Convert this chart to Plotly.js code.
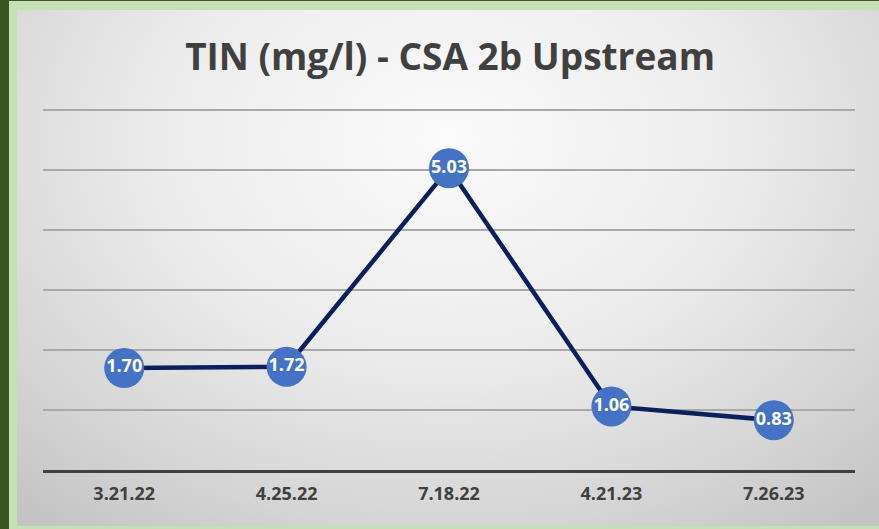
<!DOCTYPE html>
<html>
<head>
<meta charset="utf-8">
<script src="https://cdn.plot.ly/plotly-3.0.1.min.js"></script>
<style>
html,body{margin:0;padding:0;}
#wrap{position:relative;width:879px;height:529px;background:#375623;overflow:hidden;}
#light{position:absolute;left:9px;top:1px;width:870px;height:528px;background:#c5e0b4;}
#bg{position:absolute;left:17px;top:10px;width:862px;height:516px;
background:radial-gradient(ellipse 75% 95% at 50% 25%, #fbfbfb 0%, #ececec 45%, #d4d4d4 80%, #c4c4c4 100%);}
#plot{position:absolute;left:0;top:0;width:879px;height:529px;}
</style>
</head>
<body>
<div id="wrap"><div id="light"></div><div id="bg"></div><div id="plot"></div></div>
<script>
const dates = ["3.21.22", "4.25.22", "7.18.22", "4.21.23", "7.26.23"];
const tin = [1.70, 1.72, 5.03, 1.06, 0.83];
const labels = ["1.70", "1.72", "5.03", "1.06", "0.83"];

const FONT = '"Open Sans", Lato, sans-serif';

const trace = {
  x: dates, y: tin, text: labels,
  type: 'scatter', mode: 'lines+markers+text',
  line: {color: '#0b1f5c', width: 4.5},
  marker: {size: 40, color: '#4472c4'},
  textposition: 'middle center',
  textfont: {family: FONT, size: 18, color: '#ffffff', weight: 700},
  hoverinfo: 'x+y', cliponaxis: false
};

const layout = {
  width: 879, height: 529,
  paper_bgcolor: 'rgba(0,0,0,0)', plot_bgcolor: 'rgba(0,0,0,0)',
  margin: {l: 43, r: 24, t: 108, b: 59},
  title: {text: '<b>TIN (mg/l) - CSA 2b Upstream</b>', x: 0.512, xanchor: 'center', y: 0.893, yanchor: 'middle',
    font: {family: FONT, size: 37, color: '#404040'}},
  showlegend: false,
  xaxis: {type: 'category', range: [-0.5, 4.5], showgrid: false, showline: true, linecolor: '#404040', linewidth: 3,
    ticks: '', ticklabelstandoff: 5, tickfont: {family: FONT, size: 18, color: '#404040', weight: 700},
    zeroline: false, fixedrange: true},
  yaxis: {range: [0, 6.033], dtick: 1, showgrid: true, gridcolor: '#a9a9a9', gridwidth: 1.5,
    showticklabels: false, ticks: '', zeroline: false, showline: false, fixedrange: true}
};

Plotly.newPlot('plot', [trace], layout, {displayModeBar: false, staticPlot: true});
</script>
</body>
</html>
